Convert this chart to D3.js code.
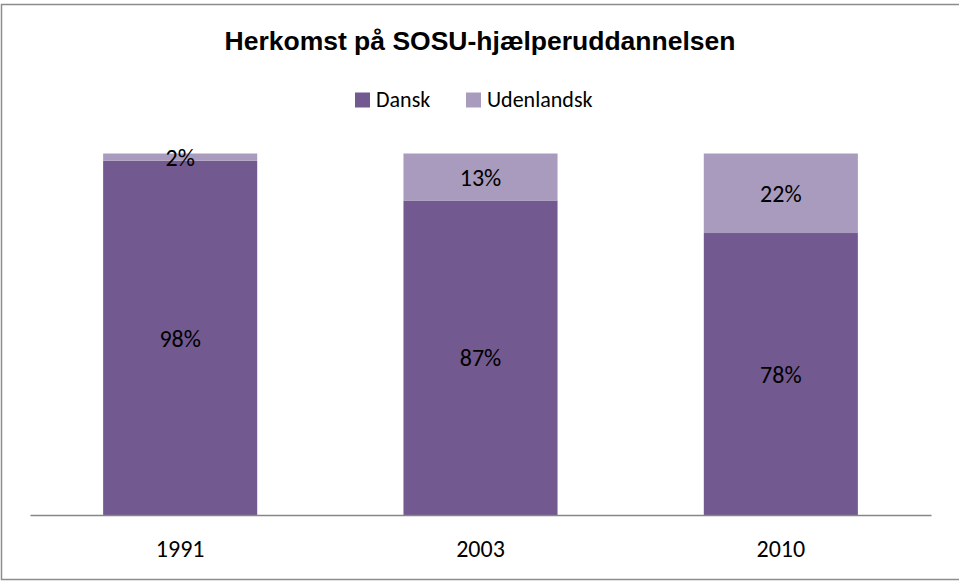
<!DOCTYPE html>
<html><head><meta charset="utf-8">
<script src="https://cdn.jsdelivr.net/npm/d3@7"></script>
<style>body{margin:0;background:#fff}svg{display:block}</style>
</head><body>
<svg id="c" width="959" height="581"></svg>
<script>
const categories = ["1991", "2003", "2010"];
const seriesNames = ["Dansk", "Udenlandsk"];
const dansk = [98, 87, 78];
const udenlandsk = [2, 13, 22];
const colors = ["#725990", "#a99bbd"];

const svg = d3.select("#c");
// frame
svg.append("rect").attr("x", 1.5).attr("y", 4.5).attr("width", 966).attr("height", 575)
  .attr("fill", "#fff").attr("stroke", "#8c8c8c").attr("stroke-width", 1.5);

const plot = {left: 30, right: 931, top: 153.5, bottom: 515};
const x = d3.scaleBand().domain(categories).range([plot.left, plot.right]).paddingInner(0.487).paddingOuter(0.2435);
const y = d3.scaleLinear().domain([0, 100]).range([plot.bottom, plot.top]);

const data = categories.map((c, i) => ({cat: c, Dansk: dansk[i], Udenlandsk: udenlandsk[i]}));
const stacked = d3.stack().keys(seriesNames)(data);

const font = "Carlito, Calibri, Lato, sans-serif";

stacked.forEach((s, si) => {
  svg.append("g").selectAll("rect").data(s).join("rect")
    .attr("x", d => x(d.data.cat))
    .attr("width", x.bandwidth())
    .attr("y", d => y(d[1]))
    .attr("height", d => y(d[0]) - y(d[1]))
    .attr("fill", colors[si]);
  svg.append("g").selectAll("text").data(s).join("text")
    .attr("x", d => x(d.data.cat) + x.bandwidth() / 2)
    .attr("y", d => (y(d[0]) + y(d[1])) / 2)
    .attr("dy", "0.36em")
    .attr("text-anchor", "middle")
    .attr("font-family", font).attr("font-size", 24).attr("fill", "#000")
    .text(d => (d[1] - d[0]) + "%");
});

// axis
const axis = d3.axisBottom(x).tickSize(0).tickPadding(25);
const ag = svg.append("g").attr("transform", `translate(0,${plot.bottom})`).call(axis);
ag.select(".domain").attr("stroke", "#868686").attr("stroke-width", 1.5);
ag.selectAll("text").attr("font-family", font).attr("font-size", 24).attr("fill", "#000");

// title
svg.append("text").attr("x", 480).attr("y", 49.5).attr("text-anchor", "middle")
  .attr("font-family", "Arial, 'Liberation Sans', sans-serif").attr("font-weight", "bold").attr("font-size", 26.5)
  .text("Herkomst på SOSU-hjælperuddannelsen");

// legend
const lg = svg.append("g");
const items = [{name: seriesNames[0], x: 355}, {name: seriesNames[1], x: 466}];
items.forEach((it, i) => {
  lg.append("rect").attr("x", it.x).attr("y", 92.5).attr("width", 15).attr("height", 15).attr("fill", colors[i]);
  lg.append("text").attr("x", it.x + 21).attr("y", 107.3).attr("font-family", font).attr("font-size", 22).text(it.name);
});
</script>
</body></html>
